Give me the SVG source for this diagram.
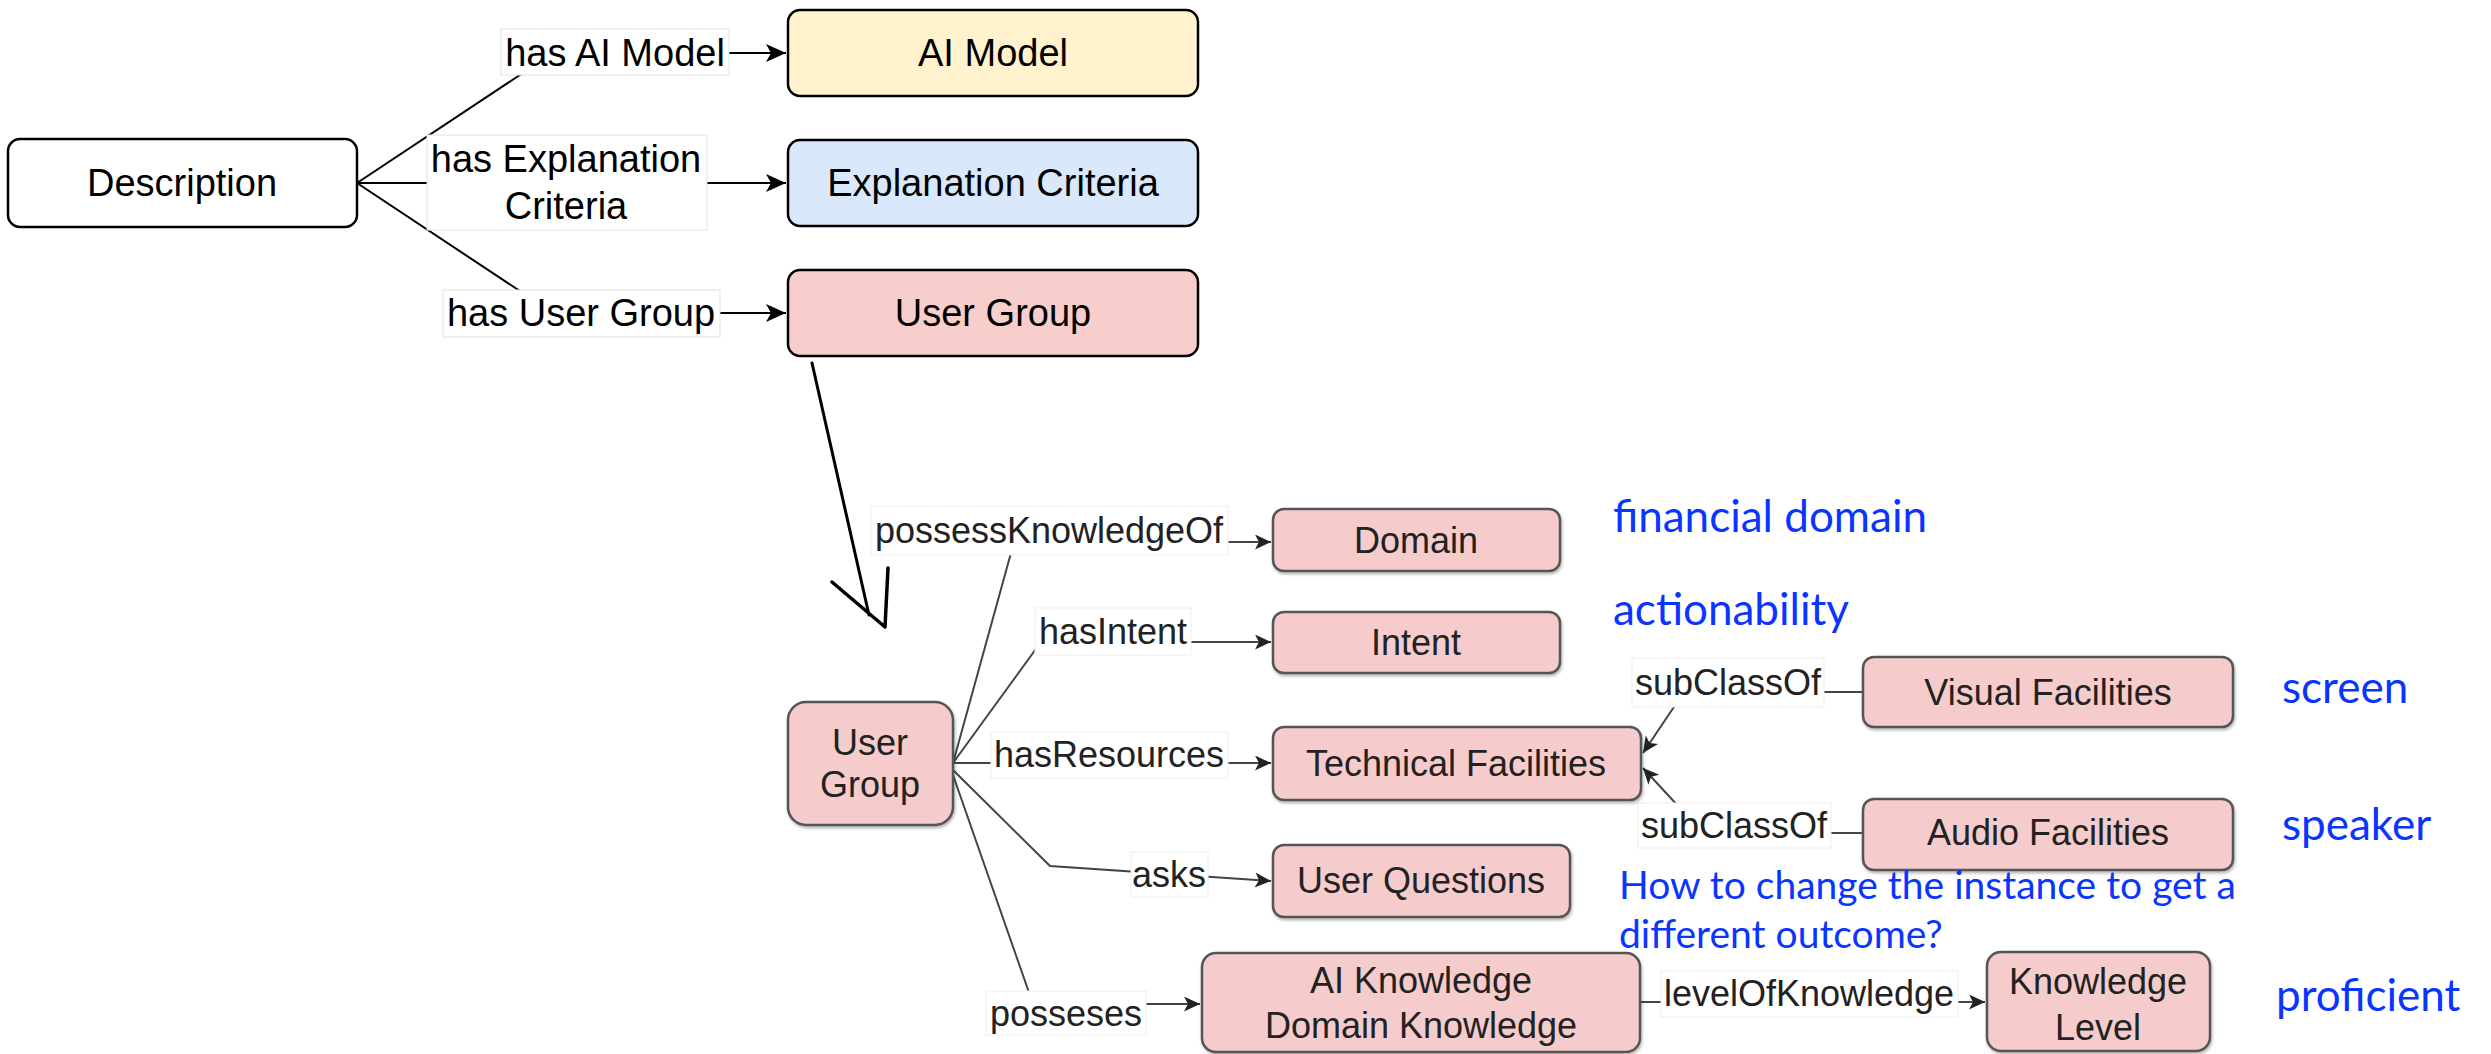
<svg xmlns="http://www.w3.org/2000/svg" width="2491" height="1054" viewBox="0 0 2491 1054">
<style>
.top{font-family:"Liberation Sans",Arial,sans-serif;font-size:38px;fill:#000;text-anchor:middle}
.low{font-family:"Liberation Sans",Arial,sans-serif;font-size:36px;fill:#222;text-anchor:middle}
.blue{font-family:Lato,"Open Sans",sans-serif;fill:#0a35ff}
.tbox{stroke:#000;stroke-width:2.5}
.lbox{fill:#f5cccb;stroke:#555;stroke-width:2.5;filter:url(#sh)}
.tlab{fill:#fff;stroke:#e2e2e2;stroke-width:1}
.llab{fill:#fff;stroke:#eeeeee;stroke-width:1}
.te{fill:none;stroke:#000;stroke-width:2}
.le{fill:none;stroke:#444;stroke-width:2}
</style>
<defs>
<filter id="sh" x="-5%" y="-10%" width="110%" height="130%"><feDropShadow dx="1" dy="2" stdDeviation="1.5" flood-color="#000" flood-opacity="0.3"/></filter>
<marker id="at" markerUnits="userSpaceOnUse" markerWidth="22" markerHeight="20" refX="20" refY="9" orient="auto"><path d="M0,0 L20,9 L0,18 L5,9 z" fill="#000"/></marker>
<marker id="al" markerUnits="userSpaceOnUse" markerWidth="18" markerHeight="16" refX="16" refY="7.5" orient="auto"><path d="M0,0 L16,7.5 L0,15 L4,7.5 z" fill="#222"/></marker>
</defs>

<g id="connectors">
<polyline class="te" points="357,183 553,53 786,53" marker-end="url(#at)"/>
<polyline class="te" points="357,183 786,183" marker-end="url(#at)"/>
<polyline class="te" points="357,183 553,313 786,313" marker-end="url(#at)"/>
<path d="M812,363 L869,615" fill="none" stroke="#000" stroke-width="3" stroke-linecap="round"/>
<path d="M832,582 L885,627 L888,568" fill="none" stroke="#000" stroke-width="3.5" stroke-linecap="round" stroke-linejoin="round"/>
<polyline class="le" points="953,763 1014,542 1271,542" marker-end="url(#al)"/>
<polyline class="le" points="953,763 1041,642 1271,642" marker-end="url(#al)"/>
<polyline class="le" points="953,763 1271,763" marker-end="url(#al)"/>
<polyline class="le" points="953,770 1050,866 1271,881" marker-end="url(#al)"/>
<polyline class="le" points="953,775 1033,1004 1200,1004" marker-end="url(#al)"/>
<polyline class="le" points="1640,1002 1985,1002" marker-end="url(#al)"/>
<polyline class="le" points="1863,692 1684,692 1643,753" marker-end="url(#al)"/>
<polyline class="le" points="1863,833 1703,833 1643,768" marker-end="url(#al)"/>
<g id="edge-labels">
<rect class="tlab" x="501" y="29" width="228" height="46"/>
<text class="top" x="615" y="66">has AI Model</text>
<rect class="tlab" x="427" y="135" width="280" height="95"/>
<text class="top" x="566" y="172">has Explanation</text>
<text class="top" x="566" y="219">Criteria</text>
<rect class="tlab" x="443" y="290" width="277" height="47"/>
<text class="top" x="581" y="326">has User Group</text>
<rect class="llab" x="871" y="506" width="357" height="49"/>
<text class="low" x="1049" y="543">possessKnowledgeOf</text>
<rect class="llab" x="1035" y="608" width="156" height="47"/>
<text class="low" x="1113" y="644">hasIntent</text>
<rect class="llab" x="991" y="732" width="237" height="46"/>
<text class="low" x="1109" y="767">hasResources</text>
<rect class="llab" x="1131" y="852" width="77" height="45"/>
<text class="low" x="1169" y="887">asks</text>
<rect class="llab" x="986" y="991" width="160" height="44"/>
<text class="low" x="1066" y="1026">posseses</text>
<rect class="llab" x="1661" y="971" width="297" height="46"/>
<text class="low" x="1809" y="1006">levelOfKnowledge</text>
<rect class="llab" x="1632" y="658" width="192" height="49"/>
<text class="low" x="1728" y="695">subClassOf</text>
<rect class="llab" x="1638" y="803" width="193" height="45"/>
<text class="low" x="1734" y="838">subClassOf</text>
</g>
</g>

<g id="description"><rect class="tbox" x="8" y="139" width="349" height="88" rx="12" fill="#fff"/><text class="top" x="182" y="196">Description</text></g>
<g id="ai-model"><rect class="tbox" x="788" y="10" width="410" height="86" rx="12" fill="#fff2cc"/><text class="top" x="993" y="66">AI Model</text></g>
<g id="explanation-criteria"><rect class="tbox" x="788" y="140" width="410" height="86" rx="12" fill="#dae8fc"/><text class="top" x="993" y="196">Explanation Criteria</text></g>
<g id="user-group-top"><rect class="tbox" x="788" y="270" width="410" height="86" rx="12" fill="#f8cecc"/><text class="top" x="993" y="326">User Group</text></g>

<g id="user-group"><rect class="lbox" x="788" y="702" width="165" height="123" rx="18"/><text class="low" x="870" y="755">User</text><text class="low" x="870" y="797">Group</text></g>
<g id="domain"><rect class="lbox" x="1273" y="509" width="287" height="62" rx="11"/><text class="low" x="1416" y="553">Domain</text></g>
<g id="intent"><rect class="lbox" x="1273" y="612" width="287" height="61" rx="11"/><text class="low" x="1416" y="655">Intent</text></g>
<g id="technical-facilities"><rect class="lbox" x="1273" y="727" width="368" height="73" rx="11"/><text class="low" x="1456" y="776">Technical Facilities</text></g>
<g id="user-questions"><rect class="lbox" x="1273" y="845" width="297" height="72" rx="11"/><text class="low" x="1421" y="893">User Questions</text></g>
<g id="ai-knowledge"><rect class="lbox" x="1202" y="953" width="438" height="99" rx="14"/><text class="low" x="1421" y="993">AI Knowledge</text><text class="low" x="1421" y="1038">Domain Knowledge</text></g>
<g id="visual-facilities"><rect class="lbox" x="1863" y="657" width="370" height="70" rx="11"/><text class="low" x="2048" y="705">Visual Facilities</text></g>
<g id="audio-facilities"><rect class="lbox" x="1863" y="799" width="370" height="71" rx="11"/><text class="low" x="2048" y="845">Audio Facilities</text></g>
<g id="knowledge-level"><rect class="lbox" x="1987" y="952" width="223" height="99" rx="14"/><text class="low" x="2098" y="994">Knowledge</text><text class="low" x="2098" y="1040">Level</text></g>

<g id="annotations">
<text class="blue" x="1613" y="532" font-size="44">financial domain</text>
<text class="blue" x="1613" y="625" font-size="44">actionability</text>
<text class="blue" x="2282" y="703" font-size="44">screen</text>
<text class="blue" x="2282" y="840" font-size="44">speaker</text>
<text class="blue" x="1619" y="899" font-size="39">How to change the instance to get a</text>
<text class="blue" x="1619" y="948" font-size="39">different outcome?</text>
<text class="blue" x="2276" y="1011" font-size="44">proficient</text>
</g>
</svg>
